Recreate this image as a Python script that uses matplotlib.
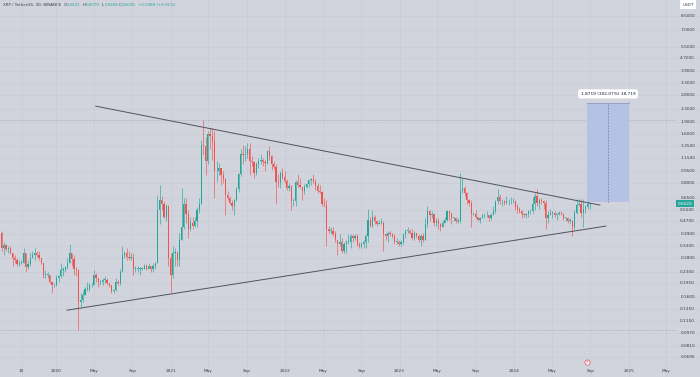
import numpy as np
import matplotlib.pyplot as plt
import matplotlib.dates as mdates
import matplotlib.transforms as mtransforms
from matplotlib.patches import Rectangle

# XRP / USDT weekly candles, first week starting 2019-07-01
first_week = "2019-07-01"
first_open = 0.405
closes = [
    # 2019
    0.397, 0.32, 0.335, 0.315, 0.32, 0.30, 0.28, 0.27, 0.257, 0.26, 0.26, 0.30, 0.245, 0.255,
    0.28, 0.29, 0.30, 0.29, 0.28, 0.26, 0.22, 0.22, 0.22, 0.20, 0.19, 0.19, 0.21,
    # 2020
    0.215, 0.235, 0.235, 0.245, 0.26, 0.30, 0.275, 0.24, 0.235, 0.15, 0.155, 0.165, 0.18,
    0.18, 0.19, 0.19, 0.22, 0.21, 0.20, 0.20, 0.205, 0.205, 0.195, 0.19, 0.175, 0.178,
    0.20, 0.195, 0.23, 0.29, 0.30, 0.285, 0.28, 0.28, 0.24, 0.24, 0.24, 0.24, 0.24,
    0.25, 0.24, 0.25, 0.24, 0.25, 0.26, 0.55, 0.63, 0.60, 0.50, 0.58, 0.28, 0.22,
    # 2021
    0.30, 0.30, 0.27, 0.36, 0.43, 0.60, 0.52, 0.42, 0.46, 0.44, 0.47, 0.55, 0.60,
    1.38, 1.35, 1.10, 1.60, 1.57, 1.45, 0.95, 0.95, 1.00, 0.90, 0.85, 0.68, 0.65,
    0.61, 0.58, 0.63, 0.74, 0.91, 1.22, 1.20, 1.22, 1.30, 1.10, 1.08, 0.93, 1.05,
    1.10, 1.12, 1.08, 1.07, 1.26, 1.18, 1.05, 1.01, 0.82, 0.80, 0.93, 0.88, 0.83,
    # 2022
    0.75, 0.77, 0.62, 0.62, 0.82, 0.78, 0.76, 0.72, 0.76, 0.79, 0.84, 0.85, 0.82,
    0.77, 0.72, 0.71, 0.60, 0.59, 0.42, 0.41, 0.41, 0.39, 0.36, 0.34, 0.35, 0.31,
    0.34, 0.35, 0.35, 0.38, 0.37, 0.38, 0.34, 0.33, 0.34, 0.35, 0.38, 0.48, 0.44,
    0.50, 0.47, 0.45, 0.46, 0.46, 0.39, 0.38, 0.40, 0.39, 0.38, 0.35, 0.35, 0.34,
    # 2023
    0.35, 0.39, 0.41, 0.41, 0.40, 0.37, 0.40, 0.38, 0.36, 0.38, 0.36, 0.45, 0.54,
    0.51, 0.52, 0.46, 0.47, 0.45, 0.43, 0.46, 0.48, 0.54, 0.53, 0.49, 0.49, 0.47,
    0.47, 0.72, 0.75, 0.70, 0.63, 0.61, 0.52, 0.52, 0.50, 0.48, 0.49, 0.51, 0.51,
    0.51, 0.49, 0.51, 0.54, 0.62, 0.66, 0.62, 0.62, 0.61, 0.62, 0.62, 0.62, 0.62,
    # 2024
    0.57, 0.56, 0.54, 0.52, 0.51, 0.52, 0.54, 0.54, 0.60, 0.67, 0.61, 0.63, 0.62,
    0.61, 0.49, 0.51, 0.53, 0.53, 0.51, 0.52, 0.53, 0.52, 0.49, 0.49, 0.47, 0.47,
    0.43, 0.53, 0.59, 0.60, 0.53, 0.56, 0.57, 0.60, 0.602,
]
highs = [
    0.42, 0.41, 0.35, 0.34, 0.33, 0.33, 0.30, 0.29, 0.28, 0.27, 0.27, 0.32, 0.30, 0.27,
    0.30, 0.31, 0.32, 0.31, 0.31, 0.28, 0.26, 0.235, 0.23, 0.22, 0.20, 0.195, 0.22,
    0.22, 0.26, 0.245, 0.25, 0.28, 0.34, 0.30, 0.29, 0.245, 0.24, 0.17, 0.175, 0.185,
    0.20, 0.195, 0.195, 0.235, 0.225, 0.21, 0.205, 0.21, 0.215, 0.21, 0.195, 0.19, 0.18,
    0.21, 0.205, 0.24, 0.33, 0.31, 0.32, 0.31, 0.30, 0.30, 0.25, 0.25, 0.245, 0.245,
    0.255, 0.255, 0.26, 0.25, 0.26, 0.265, 0.68, 0.78, 0.67, 0.62, 0.60, 0.59, 0.30,
    0.33, 0.32, 0.31, 0.40, 0.75, 0.65, 0.65, 0.55, 0.50, 0.50, 0.50, 0.57, 0.65,
    1.48, 1.96, 1.55, 1.67, 1.76, 1.75, 1.68, 1.10, 1.07, 1.00, 0.95, 0.86, 0.72,
    0.67, 0.63, 0.64, 0.76, 0.93, 1.30, 1.38, 1.35, 1.41, 1.41, 1.18, 1.10, 1.08,
    1.15, 1.22, 1.15, 1.12, 1.29, 1.35, 1.20, 1.10, 1.05, 0.92, 0.95, 1.00, 0.95,
    0.85, 0.80, 0.78, 0.65, 0.84, 0.91, 0.86, 0.76, 0.79, 0.80, 0.84, 0.86, 0.91,
    0.85, 0.80, 0.78, 0.72, 0.65, 0.63, 0.44, 0.43, 0.43, 0.41, 0.36, 0.39, 0.37,
    0.35, 0.36, 0.39, 0.39, 0.39, 0.39, 0.39, 0.35, 0.35, 0.36, 0.39, 0.56, 0.50,
    0.55, 0.51, 0.48, 0.48, 0.49, 0.47, 0.40, 0.41, 0.41, 0.40, 0.39, 0.37, 0.36,
    0.36, 0.40, 0.42, 0.43, 0.42, 0.42, 0.41, 0.40, 0.39, 0.39, 0.40, 0.49, 0.58,
    0.55, 0.54, 0.52, 0.49, 0.49, 0.46, 0.48, 0.50, 0.55, 0.55, 0.53, 0.50, 0.50,
    0.49, 0.93, 0.86, 0.77, 0.71, 0.64, 0.63, 0.53, 0.55, 0.50, 0.50, 0.52, 0.53,
    0.54, 0.51, 0.53, 0.58, 0.63, 0.74, 0.69, 0.64, 0.63, 0.67, 0.64, 0.66, 0.65,
    0.63, 0.60, 0.57, 0.55, 0.53, 0.53, 0.55, 0.56, 0.66, 0.70, 0.74, 0.65, 0.65,
    0.63, 0.63, 0.54, 0.56, 0.54, 0.54, 0.53, 0.54, 0.54, 0.53, 0.50, 0.50, 0.49,
    0.48, 0.55, 0.64, 0.64, 0.64, 0.64, 0.59, 0.62, 0.608,
]
lows = [
    0.37, 0.31, 0.29, 0.31, 0.30, 0.295, 0.25, 0.26, 0.25, 0.25, 0.255, 0.26, 0.23, 0.24,
    0.25, 0.28, 0.27, 0.285, 0.27, 0.255, 0.21, 0.21, 0.21, 0.195, 0.17, 0.185, 0.187,
    0.20, 0.21, 0.215, 0.23, 0.24, 0.26, 0.25, 0.22, 0.215, 0.101, 0.14, 0.15, 0.165,
    0.175, 0.175, 0.185, 0.19, 0.20, 0.185, 0.19, 0.19, 0.195, 0.19, 0.185, 0.17, 0.17,
    0.175, 0.19, 0.19, 0.23, 0.28, 0.27, 0.27, 0.27, 0.22, 0.23, 0.23, 0.22, 0.235,
    0.24, 0.235, 0.24, 0.23, 0.23, 0.24, 0.26, 0.45, 0.55, 0.49, 0.47, 0.25, 0.17,
    0.21, 0.25, 0.25, 0.25, 0.36, 0.42, 0.46, 0.37, 0.41, 0.42, 0.43, 0.43, 0.53,
    0.60, 1.20, 0.90, 1.05, 1.30, 1.12, 0.65, 0.82, 0.90, 0.78, 0.80, 0.51, 0.63,
    0.60, 0.55, 0.51, 0.62, 0.71, 0.89, 1.05, 1.10, 1.15, 0.90, 1.02, 0.86, 0.90,
    1.00, 1.05, 1.02, 0.95, 1.05, 1.12, 0.97, 0.98, 0.60, 0.76, 0.75, 0.85, 0.81,
    0.73, 0.72, 0.55, 0.58, 0.58, 0.76, 0.75, 0.63, 0.69, 0.75, 0.76, 0.78, 0.81,
    0.73, 0.70, 0.70, 0.58, 0.57, 0.33, 0.40, 0.39, 0.38, 0.35, 0.29, 0.33, 0.30,
    0.30, 0.30, 0.34, 0.32, 0.35, 0.36, 0.33, 0.32, 0.32, 0.32, 0.32, 0.35, 0.43,
    0.43, 0.45, 0.44, 0.45, 0.45, 0.31, 0.36, 0.35, 0.38, 0.37, 0.34, 0.34, 0.33,
    0.33, 0.34, 0.37, 0.40, 0.39, 0.36, 0.36, 0.37, 0.35, 0.33, 0.35, 0.36, 0.43,
    0.47, 0.49, 0.44, 0.44, 0.42, 0.41, 0.43, 0.46, 0.47, 0.48, 0.45, 0.47, 0.46,
    0.46, 0.46, 0.70, 0.67, 0.60, 0.58, 0.43, 0.51, 0.49, 0.47, 0.46, 0.49, 0.49,
    0.50, 0.47, 0.48, 0.51, 0.53, 0.60, 0.60, 0.58, 0.59, 0.60, 0.59, 0.60, 0.61,
    0.55, 0.53, 0.53, 0.49, 0.50, 0.49, 0.50, 0.52, 0.53, 0.55, 0.58, 0.56, 0.60,
    0.56, 0.42, 0.46, 0.51, 0.49, 0.50, 0.48, 0.51, 0.51, 0.48, 0.47, 0.46, 0.46,
    0.38, 0.42, 0.52, 0.58, 0.50, 0.43, 0.53, 0.56, 0.56,
]

# drawn trendlines (date, price)
upper_line_dates = ["2020-05-07", "2024-10-01"]
upper_line_prices = [2.38, 0.589]
lower_line_dates = ["2020-02-05", "2024-10-20"]
lower_line_prices = [0.1336, 0.438]

# price range tool
range_dates = ["2024-08-21", "2025-01-02"]
range_low = 0.6197
range_high = 2.4916

price_ticks = [8.5, 7.0, 5.5, 4.7, 3.9, 3.3, 2.8, 2.3, 1.9, 1.6, 1.35, 1.15, 0.95, 0.8,
               0.65, 0.55, 0.47, 0.39, 0.33, 0.28, 0.23, 0.195, 0.16, 0.135, 0.115,
               0.097, 0.081, 0.069]
time_tick_dates = ["2019-09-13", "2020-01-01", "2020-05-01", "2020-09-01", "2021-01-01",
                   "2021-05-01", "2021-09-01", "2022-01-01", "2022-05-01", "2022-09-01",
                   "2023-01-01", "2023-05-01", "2023-09-01", "2024-01-01", "2024-05-01",
                   "2024-09-01", "2025-01-01", "2025-05-01"]
time_tick_labels = ["10", "2020", "May", "Sep", "2021", "May", "Sep", "2022", "May", "Sep",
                    "2023", "May", "Sep", "2024", "May", "Sep", "2025", "May"]

header_ohlc = ["0.5621", "0.6079", "0.5608", "0.6020"]
header_change = "+0.0389 (+6.91%)"

bg = "#d1d4dc"
grid_c = "#c9ccd4"
up_c = "#26a69a"
down_c = "#ef5350"
txt_c = "#3a3e4a"

W, H = 700, 377
fig = plt.figure(figsize=(W / 100, H / 100), dpi=100)
fig.patch.set_facecolor(bg)
ax = fig.add_axes([0, 0, 1, 1])
ax.set_facecolor(bg)
ax.set_yscale("log")
for s in ax.spines.values():
    s.set_visible(False)
ax.set_xticks([])
ax.set_yticks([])
ax.minorticks_off()

# axis calibration
px_per_day = 114.5 / 365.25
d2020 = mdates.date2num(np.datetime64("2020-01-01"))
x_left = d2020 - 56 / px_per_day
ax.set_xlim(x_left, x_left + W / px_per_day)
px_per_ln = 70.84
ax.set_ylim(np.exp(np.log(8.5) - (H - 16) / px_per_ln), np.exp(np.log(8.5) + 16 / px_per_ln))
ax.yaxis.set_minor_locator(plt.NullLocator())

# grid
for p in price_ticks:
    ax.axhline(p, color=grid_c, lw=0.5, zorder=0)
tick_x = mdates.date2num(np.array(time_tick_dates, dtype="datetime64[D]"))
for tx in tick_x:
    ax.axvline(tx, color=grid_c, lw=0.5, zorder=0)

# candles
c = np.array(closes)
h = np.array(highs)
l = np.array(lows)
o = np.concatenate([[first_open], c[:-1]])
dates = np.datetime64(first_week) + np.arange(len(c)) * np.timedelta64(7, "D")
x = mdates.date2num(dates) + 3.5
cols = np.where(c >= o, up_c, down_c)
top = np.maximum(h, np.maximum(o, c))
bot = np.minimum(l, np.minimum(o, c))
ax.vlines(x, bot, top, colors=cols, lw=0.45, zorder=3)
body_lo = np.minimum(o, c)
body_h = np.maximum(np.abs(c - o), body_lo * 0.01)
ax.bar(x, body_h, bottom=body_lo, width=3.8, color=cols, linewidth=0, zorder=4)

# high / low dotted lines
ax.axhline(h.max(), xmax=677 / W, color="#9498a3", lw=0.5, ls=(0, (1, 1.6)), zorder=2)
ax.axhline(l.min(), xmax=677 / W, color="#9498a3", lw=0.5, ls=(0, (1, 1.6)), zorder=2)

# trendlines
ax.plot(mdates.date2num(np.array(upper_line_dates, dtype="datetime64[D]")), upper_line_prices,
        color="#4f535e", lw=0.7, zorder=5)
ax.plot(mdates.date2num(np.array(lower_line_dates, dtype="datetime64[D]")), lower_line_prices,
        color="#4f535e", lw=0.7, zorder=5)

# price range box
rx = mdates.date2num(np.array(range_dates, dtype="datetime64[D]"))
ax.add_patch(Rectangle((rx[0], range_low), rx[1] - rx[0], range_high - range_low,
                       facecolor="#b5c2e6", edgecolor="none", zorder=6))
ax.plot(rx, [range_high, range_high], color="#8f9bbd", lw=0.6, zorder=7)
mid = rx.mean()
ax.plot([mid, mid], [range_low, range_high], color="#7c86a0", lw=0.6, ls=(0, (2, 1.5)), zorder=7)
diff = range_high - range_low
label = f"{diff:.4f} ({diff / range_low * 100:.2f}%) {diff * 10000:,.0f}"
ax.annotate(label, xy=(mid, range_high), xytext=(0, 6.5), textcoords="offset points",
            ha="center", va="center", fontsize=3.1, color="#131722", zorder=8,
            bbox=dict(boxstyle="round,pad=0.6", fc="white", ec="none"))

# price labels
tr_y = mtransforms.blended_transform_factory(ax.transAxes, ax.transData)
for p in price_ticks:
    ax.text(695 / W, p, f"{p:.4f}", transform=tr_y, ha="right", va="center",
            fontsize=3.1, color=txt_c, zorder=9)
ax.text(685 / W, c[-1], f"{c[-1]:.4f}", transform=tr_y, ha="center", va="center",
        fontsize=3.1, color="white", zorder=10,
        bbox=dict(boxstyle="square,pad=0.35", fc=up_c, ec="none"))
ax.text(688 / W, 1 - 4.5 / H, "USDT", transform=ax.transAxes, ha="center", va="center",
        fontsize=3.1, color=txt_c, zorder=10,
        bbox=dict(boxstyle="square,pad=0.5", fc="white", ec="none"))

# time labels
tr_x = ax.get_xaxis_transform()
for tx, lab in zip(tick_x, time_tick_labels):
    ax.text(tx, 1 - 371 / H, lab, transform=tr_x, ha="center", va="center",
            fontsize=3.1, color=txt_c, zorder=9)

# event marker near the time axis
ev = mdates.date2num(np.datetime64("2024-08-21"))
ax.scatter([ev], [1 - 362 / H], transform=tr_x, s=14, facecolor="white",
           edgecolor="#e06070", linewidth=0.6, zorder=10, clip_on=False)
ax.text(ev, 1 - 362 / H, "#", transform=tr_x, ha="center", va="center", fontsize=2.2,
        color="#e06070", zorder=11)

# header
hy = 1 - 5 / H
ax.text(3 / W, hy, "XRP / TetherUS, 3D, BINANCE", transform=ax.transAxes, ha="left",
        va="center", fontsize=2.9, color=txt_c)
for xp, letter, val in zip([64, 83, 102, 119], "OHLC", header_ohlc):
    ax.text(xp / W, hy, letter, transform=ax.transAxes, ha="left", va="center",
            fontsize=2.9, color=txt_c)
    ax.text((xp + 3.2) / W, hy, val, transform=ax.transAxes, ha="left", va="center",
            fontsize=2.9, color=up_c)
ax.text(138 / W, hy, header_change, transform=ax.transAxes, ha="left", va="center",
        fontsize=2.9, color=up_c)

fig.savefig("out.png", dpi=100, facecolor=bg)
